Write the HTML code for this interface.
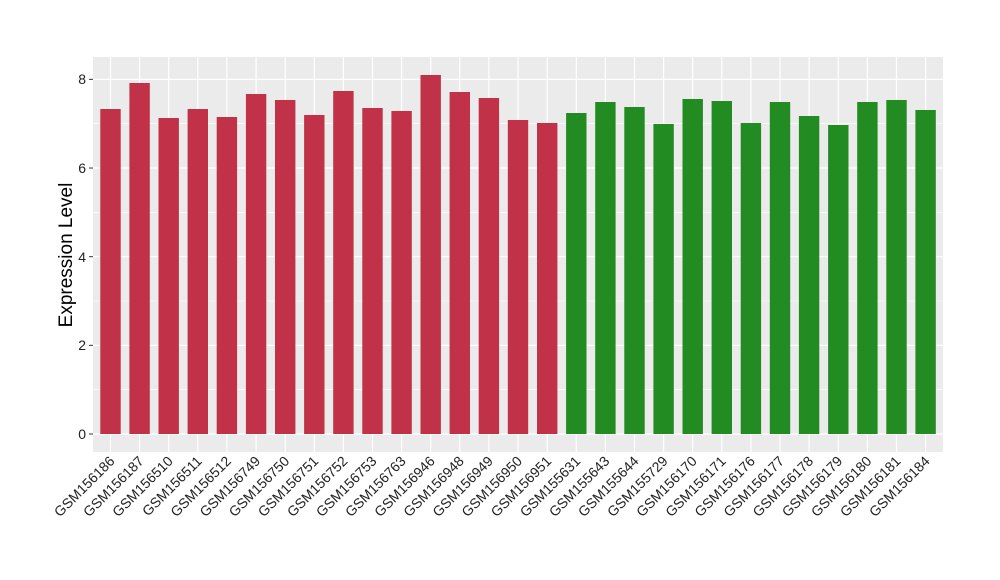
<!DOCTYPE html>
<html><head><style>body{margin:0;background:#fff}svg{display:block}</style></head><body>
<svg width="1000" height="580" xmlns="http://www.w3.org/2000/svg" font-family="Liberation Sans, Arial, sans-serif">
<rect x="93" y="57" width="850" height="395" fill="#ebebeb"/>
<g stroke="#fff" stroke-width="0.6">
<line x1="93" x2="943" y1="389.67" y2="389.67"/><line x1="93" x2="943" y1="301.01" y2="301.01"/><line x1="93" x2="943" y1="212.35" y2="212.35"/><line x1="93" x2="943" y1="123.69" y2="123.69"/>
</g>
<g stroke="#fff" stroke-width="1.2">
<line x1="93" x2="943" y1="434" y2="434"/><line x1="93" x2="943" y1="345.34" y2="345.34"/><line x1="93" x2="943" y1="256.68" y2="256.68"/><line x1="93" x2="943" y1="168.02" y2="168.02"/><line x1="93" x2="943" y1="79.36" y2="79.36"/>
</g>
<g stroke="#fff" stroke-width="1.2">
<line x1="110.5" x2="110.5" y1="57" y2="452"/><line x1="139.6" x2="139.6" y1="57" y2="452"/><line x1="168.7" x2="168.7" y1="57" y2="452"/><line x1="197.8" x2="197.8" y1="57" y2="452"/><line x1="226.9" x2="226.9" y1="57" y2="452"/><line x1="256.1" x2="256.1" y1="57" y2="452"/><line x1="285.2" x2="285.2" y1="57" y2="452"/><line x1="314.3" x2="314.3" y1="57" y2="452"/><line x1="343.4" x2="343.4" y1="57" y2="452"/><line x1="372.5" x2="372.5" y1="57" y2="452"/><line x1="401.6" x2="401.6" y1="57" y2="452"/><line x1="430.7" x2="430.7" y1="57" y2="452"/><line x1="459.8" x2="459.8" y1="57" y2="452"/><line x1="488.9" x2="488.9" y1="57" y2="452"/><line x1="518.0" x2="518.0" y1="57" y2="452"/><line x1="547.2" x2="547.2" y1="57" y2="452"/><line x1="576.3" x2="576.3" y1="57" y2="452"/><line x1="605.4" x2="605.4" y1="57" y2="452"/><line x1="634.5" x2="634.5" y1="57" y2="452"/><line x1="663.6" x2="663.6" y1="57" y2="452"/><line x1="692.7" x2="692.7" y1="57" y2="452"/><line x1="721.8" x2="721.8" y1="57" y2="452"/><line x1="750.9" x2="750.9" y1="57" y2="452"/><line x1="780.0" x2="780.0" y1="57" y2="452"/><line x1="809.1" x2="809.1" y1="57" y2="452"/><line x1="838.3" x2="838.3" y1="57" y2="452"/><line x1="867.4" x2="867.4" y1="57" y2="452"/><line x1="896.5" x2="896.5" y1="57" y2="452"/><line x1="925.6" x2="925.6" y1="57" y2="452"/>
</g>
<g fill="#c13147">
<rect x="100.3" y="109" width="20.4" height="325"/>
<rect x="129.4" y="83" width="20.4" height="351"/>
<rect x="158.5" y="118" width="20.4" height="316"/>
<rect x="187.6" y="109" width="20.4" height="325"/>
<rect x="216.7" y="117" width="20.4" height="317"/>
<rect x="245.9" y="94" width="20.4" height="340"/>
<rect x="275.0" y="100" width="20.4" height="334"/>
<rect x="304.1" y="115" width="20.4" height="319"/>
<rect x="333.2" y="91" width="20.4" height="343"/>
<rect x="362.3" y="108" width="20.4" height="326"/>
<rect x="391.4" y="111" width="20.4" height="323"/>
<rect x="420.5" y="75" width="20.4" height="359"/>
<rect x="449.6" y="92" width="20.4" height="342"/>
<rect x="478.7" y="98" width="20.4" height="336"/>
<rect x="507.8" y="120" width="20.4" height="314"/>
<rect x="537.0" y="123" width="20.4" height="311"/>
</g>
<g fill="#228b22">
<rect x="566.1" y="113" width="20.4" height="321"/>
<rect x="595.2" y="102" width="20.4" height="332"/>
<rect x="624.3" y="107" width="20.4" height="327"/>
<rect x="653.4" y="124" width="20.4" height="310"/>
<rect x="682.5" y="99" width="20.4" height="335"/>
<rect x="711.6" y="101" width="20.4" height="333"/>
<rect x="740.7" y="123" width="20.4" height="311"/>
<rect x="769.8" y="102" width="20.4" height="332"/>
<rect x="798.9" y="116" width="20.4" height="318"/>
<rect x="828.1" y="125" width="20.4" height="309"/>
<rect x="857.2" y="102" width="20.4" height="332"/>
<rect x="886.3" y="100" width="20.4" height="334"/>
<rect x="915.4" y="110" width="20.4" height="324"/>
</g>
<g stroke="#333">
<line x1="89" x2="93" y1="434" y2="434"/><line x1="89" x2="93" y1="345.34" y2="345.34"/><line x1="89" x2="93" y1="256.68" y2="256.68"/><line x1="89" x2="93" y1="168.02" y2="168.02"/><line x1="89" x2="93" y1="79.36" y2="79.36"/>
</g>
<g font-size="14" fill="#222" text-anchor="end">
<text x="86" y="439">0</text><text x="86" y="350">2</text><text x="86" y="262">4</text><text x="86" y="173">6</text><text x="86" y="84">8</text>
</g>
<g font-size="14" fill="#222" text-anchor="end">
<text transform="translate(115.5,462) rotate(-45)">GSM156186</text>
<text transform="translate(144.6,462) rotate(-45)">GSM156187</text>
<text transform="translate(173.7,462) rotate(-45)">GSM156510</text>
<text transform="translate(202.8,462) rotate(-45)">GSM156511</text>
<text transform="translate(231.9,462) rotate(-45)">GSM156512</text>
<text transform="translate(261.1,462) rotate(-45)">GSM156749</text>
<text transform="translate(290.2,462) rotate(-45)">GSM156750</text>
<text transform="translate(319.3,462) rotate(-45)">GSM156751</text>
<text transform="translate(348.4,462) rotate(-45)">GSM156752</text>
<text transform="translate(377.5,462) rotate(-45)">GSM156753</text>
<text transform="translate(406.6,462) rotate(-45)">GSM156763</text>
<text transform="translate(435.7,462) rotate(-45)">GSM156946</text>
<text transform="translate(464.8,462) rotate(-45)">GSM156948</text>
<text transform="translate(493.9,462) rotate(-45)">GSM156949</text>
<text transform="translate(523.0,462) rotate(-45)">GSM156950</text>
<text transform="translate(552.2,462) rotate(-45)">GSM156951</text>
<text transform="translate(581.3,462) rotate(-45)">GSM155631</text>
<text transform="translate(610.4,462) rotate(-45)">GSM155643</text>
<text transform="translate(639.5,462) rotate(-45)">GSM155644</text>
<text transform="translate(668.6,462) rotate(-45)">GSM155729</text>
<text transform="translate(697.7,462) rotate(-45)">GSM156170</text>
<text transform="translate(726.8,462) rotate(-45)">GSM156171</text>
<text transform="translate(755.9,462) rotate(-45)">GSM156176</text>
<text transform="translate(785.0,462) rotate(-45)">GSM156177</text>
<text transform="translate(814.1,462) rotate(-45)">GSM156178</text>
<text transform="translate(843.3,462) rotate(-45)">GSM156179</text>
<text transform="translate(872.4,462) rotate(-45)">GSM156180</text>
<text transform="translate(901.5,462) rotate(-45)">GSM156181</text>
<text transform="translate(930.6,462) rotate(-45)">GSM156184</text>
</g>
<text transform="translate(72,255) rotate(-90)" text-anchor="middle" font-size="19" fill="#000">Expression Level</text>
</svg>
</body></html>
